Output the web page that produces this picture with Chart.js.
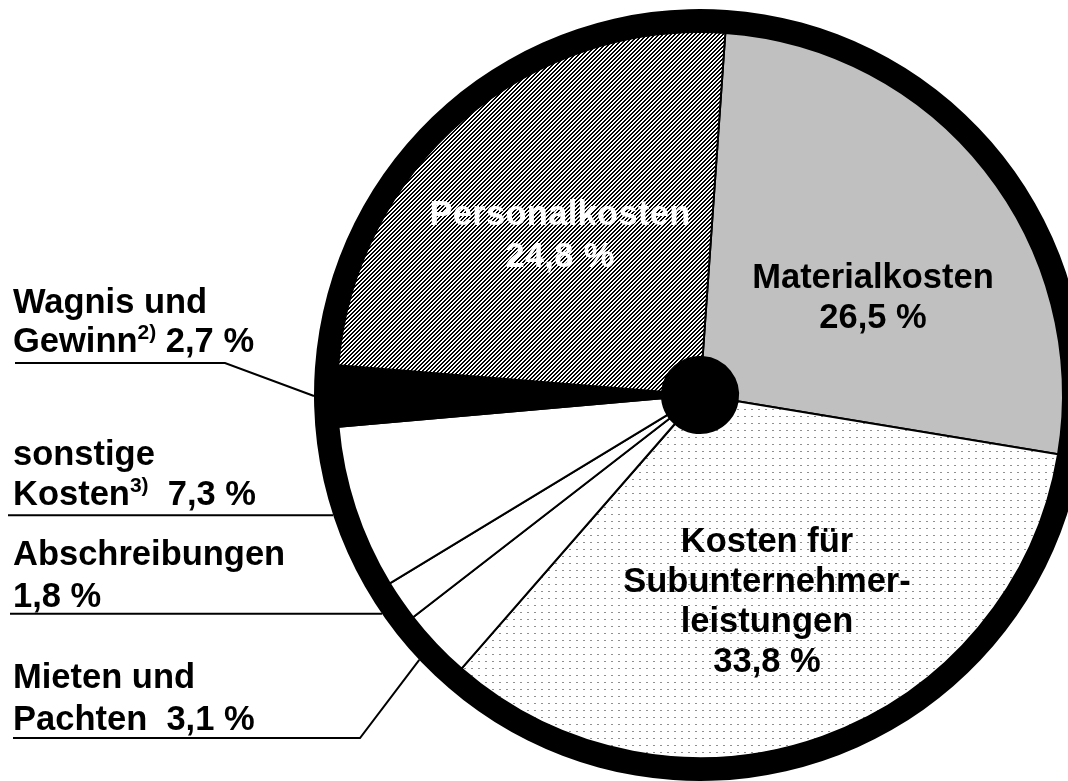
<!DOCTYPE html>
<html>
<head>
<meta charset="utf-8">
<title>Kostenstruktur</title>
<script src="https://cdn.jsdelivr.net/npm/chart.js@4"></script>
<style>
  html, body { margin: 0; padding: 0; background: #fff; overflow: hidden; }
  #wrap { width: 1068px; height: 781px; overflow: hidden; }
</style>
</head>
<body>
<div id="wrap">
  <canvas id="cvs_pie" width="1090" height="781" style="width:1090px;height:781px"></canvas>
</div>
<script>
// slices, clockwise starting right of the top
var categories = ["Materialkosten", "Kosten für Subunternehmerleistungen", "Mieten und Pachten",
                  "Abschreibungen", "sonstige Kosten", "Wagnis und Gewinn", "Personalkosten"];
var shares = [26.5, 33.8, 3.1, 1.8, 7.3, 2.7, 24.8];

var FONT = '"Liberation Sans", Arial, sans-serif';

function fmt(v) {
    return v.toFixed(1).replace('.', ',') + ' %';
}

// fill patterns
function makePattern(w, h, paint) {
    var c = document.createElement('canvas');
    c.width = w; c.height = h;
    var g = c.getContext('2d');
    g.fillStyle = '#fff';
    g.fillRect(0, 0, w, h);
    paint(g);
    return document.getElementById('cvs_pie').getContext('2d').createPattern(c, 'repeat');
}

var hatch = makePattern(4, 4, function(g) {
    g.fillStyle = '#000';
    for (var x = 0; x < 4; x++) {
        for (var y = 0; y < 4; y++) {
            var k = (x + y) % 4;
            if (k === 0 || k === 1) g.fillRect(x, y, 1, 1);
        }
    }
});

var dots = makePattern(7, 7, function(g) {
    g.fillStyle = '#909090';
    g.fillRect(2, 3, 2, 1);
});

var sliceColors = ['#c0c0c0', dots, '#fff', '#fff', '#fff', '#000', hatch];

function drawRuns(ctx, runs, x, y, align) {
    var total = 0;
    runs.forEach(function(r) {
        ctx.font = 'bold ' + r.size + 'px ' + FONT;
        total += ctx.measureText(r.t).width;
    });
    var cx = align === 'center' ? x - total / 2 : x;
    runs.forEach(function(r) {
        ctx.font = 'bold ' + r.size + 'px ' + FONT;
        ctx.fillText(r.t, cx, y - (r.rise || 0));
        cx += ctx.measureText(r.t).width;
    });
}

function T(t) { return { t: t, size: 34.5 }; }
function SUP(t) { return { t: t, size: 21, rise: 13 }; }

var labelPlugin = {
    id: 'kostenLabels',
    afterDraw: function(chart) {
        var ctx = chart.ctx;
        var arcs = chart.getDatasetMeta(1).data;
        var ring = chart.getDatasetMeta(0).data[0];
        var cx = ring.x, cy = ring.y, R = ring.outerRadius;

        function anchor(i) {
            var a = (arcs[i].startAngle + arcs[i].endAngle) / 2;
            return { x: cx + R * Math.cos(a), y: cy + R * Math.sin(a) };
        }

        ctx.save();
        ctx.textBaseline = 'alphabetic';

        // labels inside the pie
        ctx.fillStyle = '#000';
        drawRuns(ctx, [T('Materialkosten')], cx + 173, cy - 107, 'center');
        drawRuns(ctx, [T(fmt(shares[0]))], cx + 173, cy - 67, 'center');

        drawRuns(ctx, [T('Kosten für')], cx + 67, cy + 157, 'center');
        drawRuns(ctx, [T('Subunternehmer-')], cx + 67, cy + 197, 'center');
        drawRuns(ctx, [T('leistungen')], cx + 67, cy + 237, 'center');
        drawRuns(ctx, [T(fmt(shares[1]))], cx + 67, cy + 277, 'center');

        ctx.fillStyle = '#fff';
        ctx.letterSpacing = '0.3px';
        drawRuns(ctx, [T('Personalkosten')], cx - 140, cy - 170, 'center');
        drawRuns(ctx, [T(fmt(shares[6]))], cx - 140, cy - 128, 'center');
        ctx.letterSpacing = '0px';

        // labels on the left
        ctx.fillStyle = '#000';
        drawRuns(ctx, [T('Wagnis und')], 13, 313, 'left');
        drawRuns(ctx, [T('Gewinn'), SUP('2)'), T(' ' + fmt(shares[5]))], 13, 352, 'left');
        drawRuns(ctx, [T('sonstige')], 13, 465, 'left');
        drawRuns(ctx, [T('Kosten'), SUP('3)'), T('  ' + fmt(shares[4]))], 13, 505, 'left');
        drawRuns(ctx, [T('Abschreibungen')], 13, 565, 'left');
        drawRuns(ctx, [T(fmt(shares[3]))], 13, 607, 'left');
        drawRuns(ctx, [T('Mieten und')], 13, 688, 'left');
        drawRuns(ctx, [T('Pachten  ' + fmt(shares[2]))], 13, 730, 'left');

        // leader lines
        ctx.strokeStyle = '#000';
        ctx.lineWidth = 2;
        ctx.lineJoin = 'miter';
        var p;

        p = anchor(5);
        ctx.beginPath();
        ctx.moveTo(15, 363); ctx.lineTo(225, 363); ctx.lineTo(p.x, p.y);
        ctx.stroke();

        p = anchor(4);
        ctx.beginPath();
        ctx.moveTo(8, p.y); ctx.lineTo(p.x, p.y);
        ctx.stroke();

        p = anchor(3);
        ctx.beginPath();
        ctx.moveTo(10, p.y); ctx.lineTo(p.x, p.y);
        ctx.stroke();

        p = anchor(2);
        ctx.beginPath();
        ctx.moveTo(13, 738); ctx.lineTo(360, 738); ctx.lineTo(p.x, p.y);
        ctx.stroke();

        ctx.restore();
    }
};

var config = {
    type: 'doughnut',
    data: {
        labels: categories,
        datasets: [{
            // thick outer rim
            data: [1],
            backgroundColor: ['#000'],
            borderWidth: 0,
            weight: 23
        }, {
            data: shares,
            backgroundColor: sliceColors,
            borderColor: '#000',
            borderWidth: 2,
            weight: 324
        }, {
            // black hub
            data: [1],
            backgroundColor: ['#000'],
            borderWidth: 0,
            weight: 38
        }]
    },
    options: {
        responsive: false,
        animation: false,
        devicePixelRatio: 1,
        cutout: 0,
        rotation: 4,
        layout: {
            padding: { left: 314, right: 4, top: 9, bottom: 0 }
        },
        events: [],
        plugins: {
            legend: { display: false },
            tooltip: { enabled: false },
            title: { display: false }
        }
    },
    plugins: [labelPlugin]
};

window.onload = function() {
    window.myPie = new Chart(document.getElementById("cvs_pie"), config);
};
</script>
</body>
</html>
